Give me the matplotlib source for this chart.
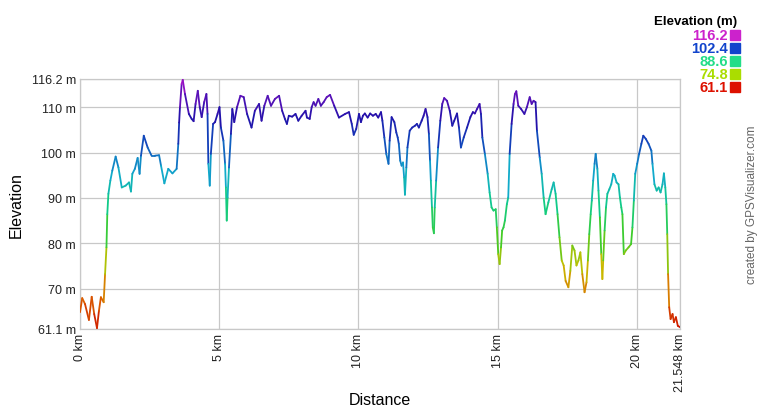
import numpy as np
import matplotlib
matplotlib.use("Agg")
from matplotlib import pyplot as plt
from matplotlib.collections import LineCollection
from matplotlib.colors import LinearSegmentedColormap, Normalize
from matplotlib.patches import Rectangle

plt.rcParams['font.family'] = ['Liberation Sans', 'DejaVu Sans']

# track profile (km, m)
dist_km = [
  0.00, 0.08, 0.18, 0.32, 0.42, 0.51, 0.61, 0.68, 0.75, 0.85, 0.90, 0.95, 0.98, 1.02, 1.09,
  1.16, 1.28, 1.38, 1.50, 1.64, 1.76, 1.83, 1.88, 1.97, 2.07, 2.14, 2.19, 2.29, 2.43, 2.57,
  2.69, 2.84, 2.91, 3.03, 3.17, 3.32, 3.47, 3.53, 3.56, 3.59, 3.65, 3.69,
  3.77, 3.91, 4.01, 4.08, 4.15, 4.23, 4.30, 4.37, 4.46, 4.54, 4.58, 4.61, 4.66, 4.70,
  4.78, 4.85, 4.94, 5.01, 5.06, 5.15, 5.21, 5.24, 5.27, 5.30, 5.35, 5.42, 5.47, 5.54,
  5.64, 5.76, 5.88, 6.00, 6.16, 6.28, 6.43, 6.52, 6.62, 6.74, 6.86, 7.00,
  7.15, 7.26, 7.36, 7.43, 7.50, 7.62, 7.74, 7.84, 7.96, 8.10, 8.15, 8.25, 8.32, 8.39,
  8.46, 8.56, 8.65, 8.75, 8.86, 8.98, 9.13, 9.30, 9.52, 9.66, 9.76, 9.83, 9.92, 10.02,
  10.09, 10.16, 10.23, 10.33, 10.42, 10.52, 10.62, 10.71, 10.81, 10.86, 10.93, 11.00,
  11.08, 11.12, 11.19, 11.29, 11.36, 11.41, 11.45, 11.50, 11.55, 11.60, 11.64, 11.67,
  11.72, 11.76, 11.84, 11.93, 12.03, 12.10, 12.17, 12.27, 12.34, 12.41, 12.48, 12.53,
  12.57, 12.60, 12.64, 12.67, 12.71, 12.74, 12.79, 12.86, 12.94, 13.01, 13.08, 13.18,
  13.28, 13.37, 13.44, 13.54, 13.61, 13.68, 13.78, 13.90, 14.02, 14.11, 14.18, 14.26,
  14.35, 14.40, 14.45, 14.54, 14.64, 14.71, 14.78, 14.85, 14.93, 14.97, 15.02, 15.07,
  15.12, 15.16, 15.21, 15.26, 15.33, 15.38, 15.43, 15.50, 15.57, 15.62, 15.67, 15.74,
  15.84, 15.96, 16.05, 16.15, 16.22, 16.29, 16.36, 16.41, 16.51, 16.58, 16.65, 16.72,
  16.82, 16.94, 17.01, 17.08, 17.15, 17.22, 17.30, 17.37, 17.44, 17.54, 17.61, 17.68,
  17.76, 17.83, 17.90, 17.97, 18.04, 18.12, 18.19, 18.24, 18.29, 18.34, 18.38, 18.43,
  18.48, 18.52, 18.58, 18.62, 18.67, 18.72, 18.76, 18.79, 18.84, 18.89, 18.94, 19.01,
  19.08, 19.15, 19.20, 19.27, 19.34, 19.39, 19.44, 19.48, 19.53, 19.60, 19.70, 19.79,
  19.84, 19.89, 19.94, 20.01, 20.08, 20.16, 20.23, 20.32, 20.42, 20.52, 20.56, 20.63,
  20.71, 20.78, 20.85, 20.92, 20.97, 21.02, 21.06, 21.09, 21.12, 21.16, 21.21, 21.28,
  21.33, 21.40, 21.47, 21.548,
]
elev_m = [
  64.8, 67.9, 66.6, 63.1, 68.2, 64.4, 61.3, 65.1, 68.1, 67.0, 73.2, 79.1, 86.4, 90.9, 93.8,
  96.0, 99.1, 96.7, 92.3, 92.7, 93.4, 91.4, 95.3, 96.4, 98.8, 95.3, 99.3, 103.7, 101.1, 99.3,
  99.3, 99.4, 97.1, 93.2, 96.4, 95.4, 96.4, 101.9, 106.6, 110.0, 115.1, 116.0,
  112.9, 108.5, 107.4, 106.9, 110.7, 113.6, 110.0, 107.8, 111.1, 112.9, 108.5, 97.5, 92.7, 99.7,
  106.3, 106.7, 108.5, 110.0, 105.5, 102.6, 97.5, 92.3, 85.0, 90.1, 96.7, 104.1, 109.6, 106.7,
  110.0, 112.5, 112.2, 108.5, 105.5, 109.2, 110.7, 107.0, 110.3, 112.5, 110.3, 111.8,
  112.5, 109.2, 107.4, 106.3, 108.1, 107.9, 108.5, 107.0, 108.1, 109.2, 107.7, 107.4, 110.0, 111.1,
  110.3, 111.8, 110.3, 111.1, 112.2, 112.7, 110.3, 107.7, 108.5, 108.9, 106.3, 103.9, 105.2, 108.5,
  106.7, 108.1, 108.6, 107.7, 108.6, 108.1, 108.5, 107.7, 108.9, 107.0, 103.3, 99.7,
  97.5, 102.6, 107.8, 106.7, 104.4, 103.3, 101.9, 98.2, 97.1, 97.8, 94.5, 90.7,
  96.7, 101.1, 104.8, 105.5, 105.9, 106.3, 105.5, 107.0, 108.1, 109.6, 107.8, 104.1,
  98.2, 93.8, 87.9, 83.5, 82.2, 87.9, 93.8, 101.1, 107.0, 110.7, 112.0, 111.4,
  109.2, 105.9, 107.0, 108.6, 105.5, 101.1, 103.3, 105.5, 107.8, 108.9, 108.6, 109.6,
  110.7, 108.5, 103.3, 99.7, 95.3, 91.2, 87.9, 87.2, 87.5, 83.5, 77.6, 75.4,
  79.1, 82.8, 83.5, 85.0, 88.6, 90.1, 99.7, 106.3, 110.7, 112.9, 113.5, 110.3,
  109.6, 108.5, 110.0, 112.2, 110.7, 111.4, 111.1, 104.8, 98.9, 95.3, 90.1, 86.4,
  89.0, 91.9, 93.4, 90.9, 86.4, 81.3, 76.2, 75.1, 71.7, 70.3, 73.9, 79.5,
  78.4, 75.1, 76.2, 78.0, 73.2, 69.2, 71.4, 76.2, 82.0, 86.4, 89.4, 93.8,
  97.5, 99.7, 96.4, 91.6, 85.7, 77.6, 72.1, 76.2, 82.8, 87.9, 90.9, 91.9,
  93.0, 95.3, 94.9, 93.4, 93.0, 90.1, 87.9, 86.4, 77.6, 78.4, 79.1, 79.8,
  83.5, 89.4, 95.3, 97.5, 99.7, 101.9, 103.7, 103.0, 101.9, 100.4, 97.5, 93.0,
  91.6, 92.3, 91.2, 93.0, 95.4, 92.3, 88.6, 82.0, 73.2, 65.9, 63.3, 64.4,
  62.6, 63.7, 61.8, 61.5,
]

y_min, y_max = 61.1, 116.2
x_max = 21.548
y_ticks = [61.1, 70, 80, 90, 100, 110, 116.2]
y_tick_labels = ["61.1 m", "70 m", "80 m", "90 m", "100 m", "110 m", "116.2 m"]
x_ticks = [0, 5, 10, 15, 20, 21.548]
x_tick_labels = ["0 km", "5 km", "10 km", "15 km", "20 km", "21.548 km"]
legend_values = ["116.2", "102.4", "88.6", "74.8", "61.1"]
legend_colors = ["#cc22cc", "#1144cc", "#22dd88", "#aadd00", "#dd1100"]

# colour ramp used for the line (darker than the legend swatches)
ramp = LinearSegmentedColormap.from_list("elev", [
  (0.00, "#cc1100"), (0.12, "#dd6600"), (0.25, "#c8c000"), (0.36, "#44cc22"),
  (0.50, "#11cc88"), (0.62, "#11aacc"), (0.75, "#1144bb"), (0.85, "#2211aa"),
  (0.94, "#6611bb"), (1.00, "#bb11cc"),
])

fig = plt.figure(figsize=(7.6, 4.1), dpi=100)
ax = fig.add_axes([80 / 760, 1 - 330 / 410, 600 / 760, 250 / 410])

x = np.asarray(dist_km)
y = np.asarray(elev_m)
pts = np.column_stack([x, y]).reshape(-1, 1, 2)
segs = np.concatenate([pts[:-1], pts[1:]], axis=1)
lc = LineCollection(segs, cmap=ramp, norm=Normalize(y_min, y_max), linewidth=1.3,
                    capstyle="round", joinstyle="round", zorder=3)
lc.set_array((y[:-1] + y[1:]) / 2)
ax.add_collection(lc)

ax.set_xlim(0, x_max)
ax.set_ylim(y_min, y_max)
ax.set_yticks(y_ticks)
ax.set_yticklabels(y_tick_labels, fontsize=9, color="#222222")
ax.set_xticks(x_ticks)
ax.set_xticklabels(x_tick_labels, fontsize=9, rotation=90, color="#222222")
ax.tick_params(length=0, pad=3)
ax.grid(True, color="#c8c8c8", linewidth=0.9)
ax.set_axisbelow(True)
for sp in ax.spines.values():
  sp.set_color("#c8c8c8")
  sp.set_linewidth(0.9)

fig.text(16 / 760, 1 - 205 / 410, "Elevation", fontsize=11.5, rotation=90,
         ha="center", va="center")
fig.text(380 / 760, 1 - 401 / 410, "Distance", fontsize=11.5, ha="center", va="center")

# legend block, top right
fig.text(737 / 760, 1 - 22 / 410, "Elevation (m)", fontsize=9.5, fontweight="bold",
         ha="right", va="center")
for i, (val, col) in enumerate(zip(legend_values, legend_colors)):
  yc = 36 + i * 13
  fig.text(728 / 760, 1 - yc / 410, val, fontsize=10.5, fontweight="bold", color=col,
           ha="right", va="center")
  fig.patches.append(Rectangle((730 / 760, 1 - (yc + 5) / 410), 10 / 760, 10 / 410,
                               transform=fig.transFigure, color=col, figure=fig))

fig.text(752 / 760, 1 - 205 / 410, "created by GPSVisualizer.com", fontsize=8.5,
         color="#666666", rotation=90, ha="center", va="center")

fig.savefig("out.png", dpi=100)
